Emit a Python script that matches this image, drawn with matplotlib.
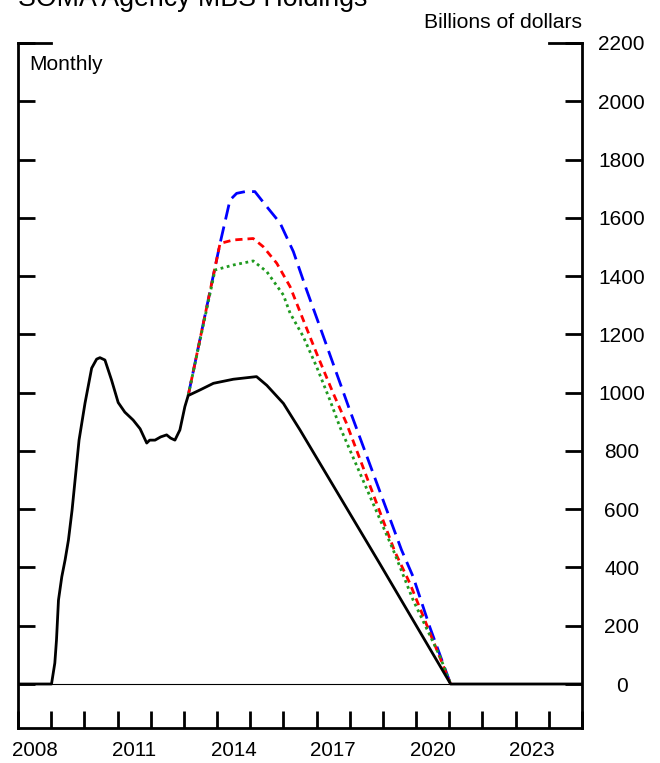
import matplotlib
matplotlib.use("Agg")
from matplotlib import pyplot as plt

plt.rcParams['font.family'] = ['Liberation Sans', 'DejaVu Sans']

# SOMA agency MBS holdings, billions of dollars, decimal years
hist_years = [2008.0, 2009.01, 2009.11, 2009.16, 2009.22, 2009.32, 2009.42, 2009.52,
              2009.63, 2009.75, 2009.84, 2010.02, 2010.22, 2010.37, 2010.47, 2010.62,
              2010.82, 2011.02, 2011.22, 2011.47, 2011.68, 2011.88, 2011.97, 2012.13,
              2012.3, 2012.48, 2012.6, 2012.73, 2012.88, 2013.03, 2013.13]
hist_values = [0, 0, 72, 151, 288, 368, 426, 494,
               597, 734, 837, 964, 1084, 1115, 1120, 1112,
               1043, 966, 933, 906, 876, 827, 837, 837,
               848, 855, 844, 837, 872, 952, 990]

base_years = [2013.13, 2013.5, 2013.89, 2014.49, 2015.19, 2015.5, 2016.0, 2016.5,
              2018.91, 2021.04, 2025.0]
base_values = [990, 1010, 1032, 1046, 1055, 1025, 963, 872, 412, 0, 0]

blue_years = [2013.13, 2014.09, 2014.39, 2014.59, 2014.85, 2015.14, 2015.5, 2015.9,
              2016.3, 2016.7, 2017.1, 2017.6, 2018.0, 2019.56, 2019.91, 2020.42,
              2020.92, 2021.04]
blue_values = [990, 1512, 1661, 1684, 1690, 1690, 1638, 1582,
               1484, 1352, 1226, 1067, 940, 460, 368, 193, 37, 0]

red_years = [2013.13, 2014.09, 2014.49, 2015.09, 2015.39, 2015.8, 2016.2, 2016.6,
             2017.0, 2017.5, 2017.9, 2019.36, 2019.81, 2021.04]
red_values = [990, 1512, 1524, 1529, 1501, 1444, 1364, 1249,
              1135, 998, 895, 454, 346, 0]

green_years = [2013.13, 2013.94, 2014.49, 2015.09, 2015.5, 2016.0, 2016.2, 2016.6,
               2017.0, 2017.4, 2017.7, 2019.31, 2019.91, 2020.72, 2021.04]
green_values = [990, 1421, 1438, 1452, 1415, 1335, 1273, 1192,
                1089, 975, 883, 460, 288, 94, 0]

year_labels = [2008, 2011, 2014, 2017, 2020, 2023]
y_ticks = list(range(0, 2201, 200))

fig = plt.figure(figsize=(6.6, 7.63), dpi=100)
ax = fig.add_axes([18 / 660, 35 / 763, 564 / 660, 685 / 763])

ax.axhline(0, color='k', lw=0.8, zorder=1)

ax.plot(blue_years, blue_values, color='#0000ff', lw=2.0, dashes=(5.5, 2.6), zorder=3)
ax.plot(red_years, red_values, color='#ff0000', lw=2.0, dashes=(2.6, 1.8), zorder=3)
ax.plot(green_years, green_values, color='#1f9a1f', lw=2.0, dashes=(1.0, 1.3), zorder=3)
ax.plot(hist_years + base_years[1:], hist_values + base_values[1:], color='k', lw=2.0,
        zorder=4, solid_joinstyle='round')

ax.set_xlim(2008, 2025)
ax.set_ylim(-151, 2200)

for side in ['left', 'right', 'bottom']:
    ax.spines[side].set_linewidth(2)
ax.spines['top'].set_visible(False)
# short top corner pieces
ax.plot([2008, 2009], [2200, 2200], color='k', lw=2, clip_on=False, solid_capstyle='projecting')
ax.plot([2024, 2025], [2200, 2200], color='k', lw=2, clip_on=False, solid_capstyle='projecting')

ax.set_xticks(range(2008, 2026))
ax.set_xticklabels([])
ax.set_xticks([y + 0.5 for y in year_labels], minor=True)
ax.set_xticklabels([str(y) for y in year_labels], minor=True)
ax.tick_params(axis='x', which='major', direction='in', length=12.5, width=2)
ax.tick_params(axis='x', which='minor', length=0, labelsize=14.8, pad=9)

ax.set_yticks(y_ticks)
ax.tick_params(axis='y', direction='in', length=12.5, width=2, left=True, right=True,
               labelleft=False, labelright=True, labelsize=15, pad=28.5)
for lab in ax.get_yticklabels():
    lab.set_horizontalalignment('center')

fig.text(18 / 660, 1 - 6 / 763, 'SOMA Agency MBS Holdings', fontsize=19.3, va='baseline')
fig.text(582 / 660, 1 - 28 / 763, 'Billions of dollars', fontsize=15.2, ha='right', va='baseline')
fig.text(29 / 660, 1 - 70 / 763, 'Monthly', fontsize=15, va='baseline')

plt.savefig('out.png', dpi=100)
plt.close('all')
